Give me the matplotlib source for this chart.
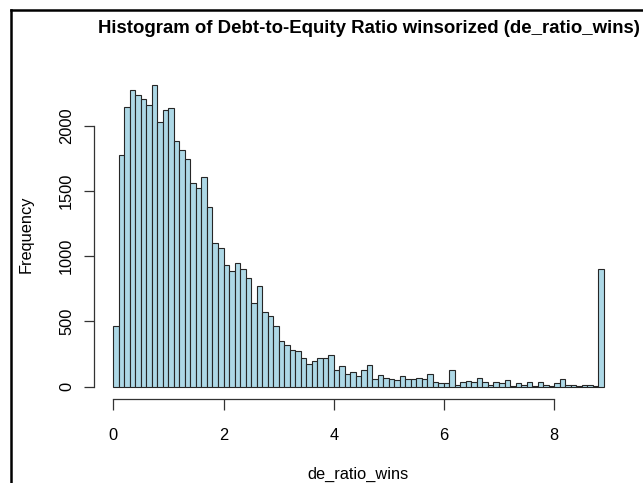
import numpy as np
import matplotlib
matplotlib.use("Agg")
import matplotlib.pyplot as plt
from matplotlib.lines import Line2D

plt.rcParams['font.family'] = ['Liberation Sans', 'DejaVu Sans']

# Histogram bins (width 0.1) of the winsorized debt-to-equity ratio
bin_width = 0.1
n_bins = 89
breaks = np.round(np.arange(n_bins + 1) * bin_width, 1)
counts = [
    465, 1773, 2146, 2273, 2235, 2204, 2161, 2312, 2031, 2120,
    2138, 1883, 1814, 1742, 1558, 1525, 1604, 1379, 1104, 1066,
    930, 889, 945, 899, 830, 639, 769, 572, 542, 465,
    350, 317, 284, 276, 220, 174, 194, 222, 222, 243,
    128, 156, 95, 110, 79, 125, 163, 56, 87, 66,
    59, 54, 79, 56, 61, 69, 61, 95, 40, 30,
    31, 128, 13, 33, 46, 33, 66, 33, 15, 38,
    26, 54, 5, 26, 15, 33, 5, 38, 14, 4,
    26, 59, 13, 13, 3, 13, 13, 3, 902,
]
x_ticks = [0, 2, 4, 6, 8]
y_ticks = [0, 500, 1000, 1500, 2000]

title = "Histogram of Debt-to-Equity Ratio winsorized (de_ratio_wins)"
xlabel = "de_ratio_wins"
ylabel = "Frequency"

W, H = 643, 483
fig = plt.figure(figsize=(W / 100, H / 100), dpi=100)
fig.patch.set_facecolor('white')

# plot region in pixels (left, top, right, bottom)
L, T, R, B = 93.7, 72.9, 623.3, 398.8
ax = fig.add_axes([L / W, 1 - B / H, (R - L) / W, (B - T) / H])

ax.bar(breaks[:-1], counts, width=bin_width, align='edge',
       color='#ADD8E6', edgecolor='#262626', linewidth=0.8)

# R-style 4% range extension
x0, x1 = breaks[0], breaks[-1]
dx = 0.04 * (x1 - x0)
ax.set_xlim(x0 - dx, x1 + dx)
ymax = max(counts)
dy = 0.04 * ymax
ax.set_ylim(-dy, ymax + dy)

for s in ('top', 'right'):
    ax.spines[s].set_visible(False)
for s in ('left', 'bottom'):
    ax.spines[s].set_color('#333333')
    ax.spines[s].set_linewidth(0.9)
ax.spines['bottom'].set_bounds(x_ticks[0], x_ticks[-1])
ax.spines['left'].set_bounds(y_ticks[0], y_ticks[-1])

ax.set_xticks(x_ticks)
ax.set_xticklabels([str(v) for v in x_ticks], fontsize=11.8)
ax.set_yticks(y_ticks)
ax.set_yticklabels([str(v) for v in y_ticks], fontsize=11.8,
                   rotation=90, va='center')
ax.tick_params(axis='x', direction='out', length=7.7, width=0.9,
               color='#333333', pad=13)
ax.tick_params(axis='y', direction='out', length=7.3, width=0.9,
               color='#333333', pad=6.8)
ax.set_facecolor('white')

fig.text(98 / W, 1 - 33 / H, title, ha='left', va='baseline',
         fontsize=13.45, fontweight='bold')
fig.text(358.5 / W, 1 - 479 / H, xlabel, ha='center', va='baseline',
         fontsize=11.8)
fig.text(26 / W, 1 - 234 / H, ylabel, ha='center', va='center',
         rotation=90, fontsize=11.8)

# outer frame (left and top edges)
fig.add_artist(Line2D([10.7 / W, 10.7 / W], [0, 1 - 9.5 / H],
                      transform=fig.transFigure, color='black', lw=1.8))
fig.add_artist(Line2D([10.7 / W, 1], [1 - 9.5 / H, 1 - 9.5 / H],
                      transform=fig.transFigure, color='black', lw=1.8))

fig.savefig('out.png', dpi=100)
